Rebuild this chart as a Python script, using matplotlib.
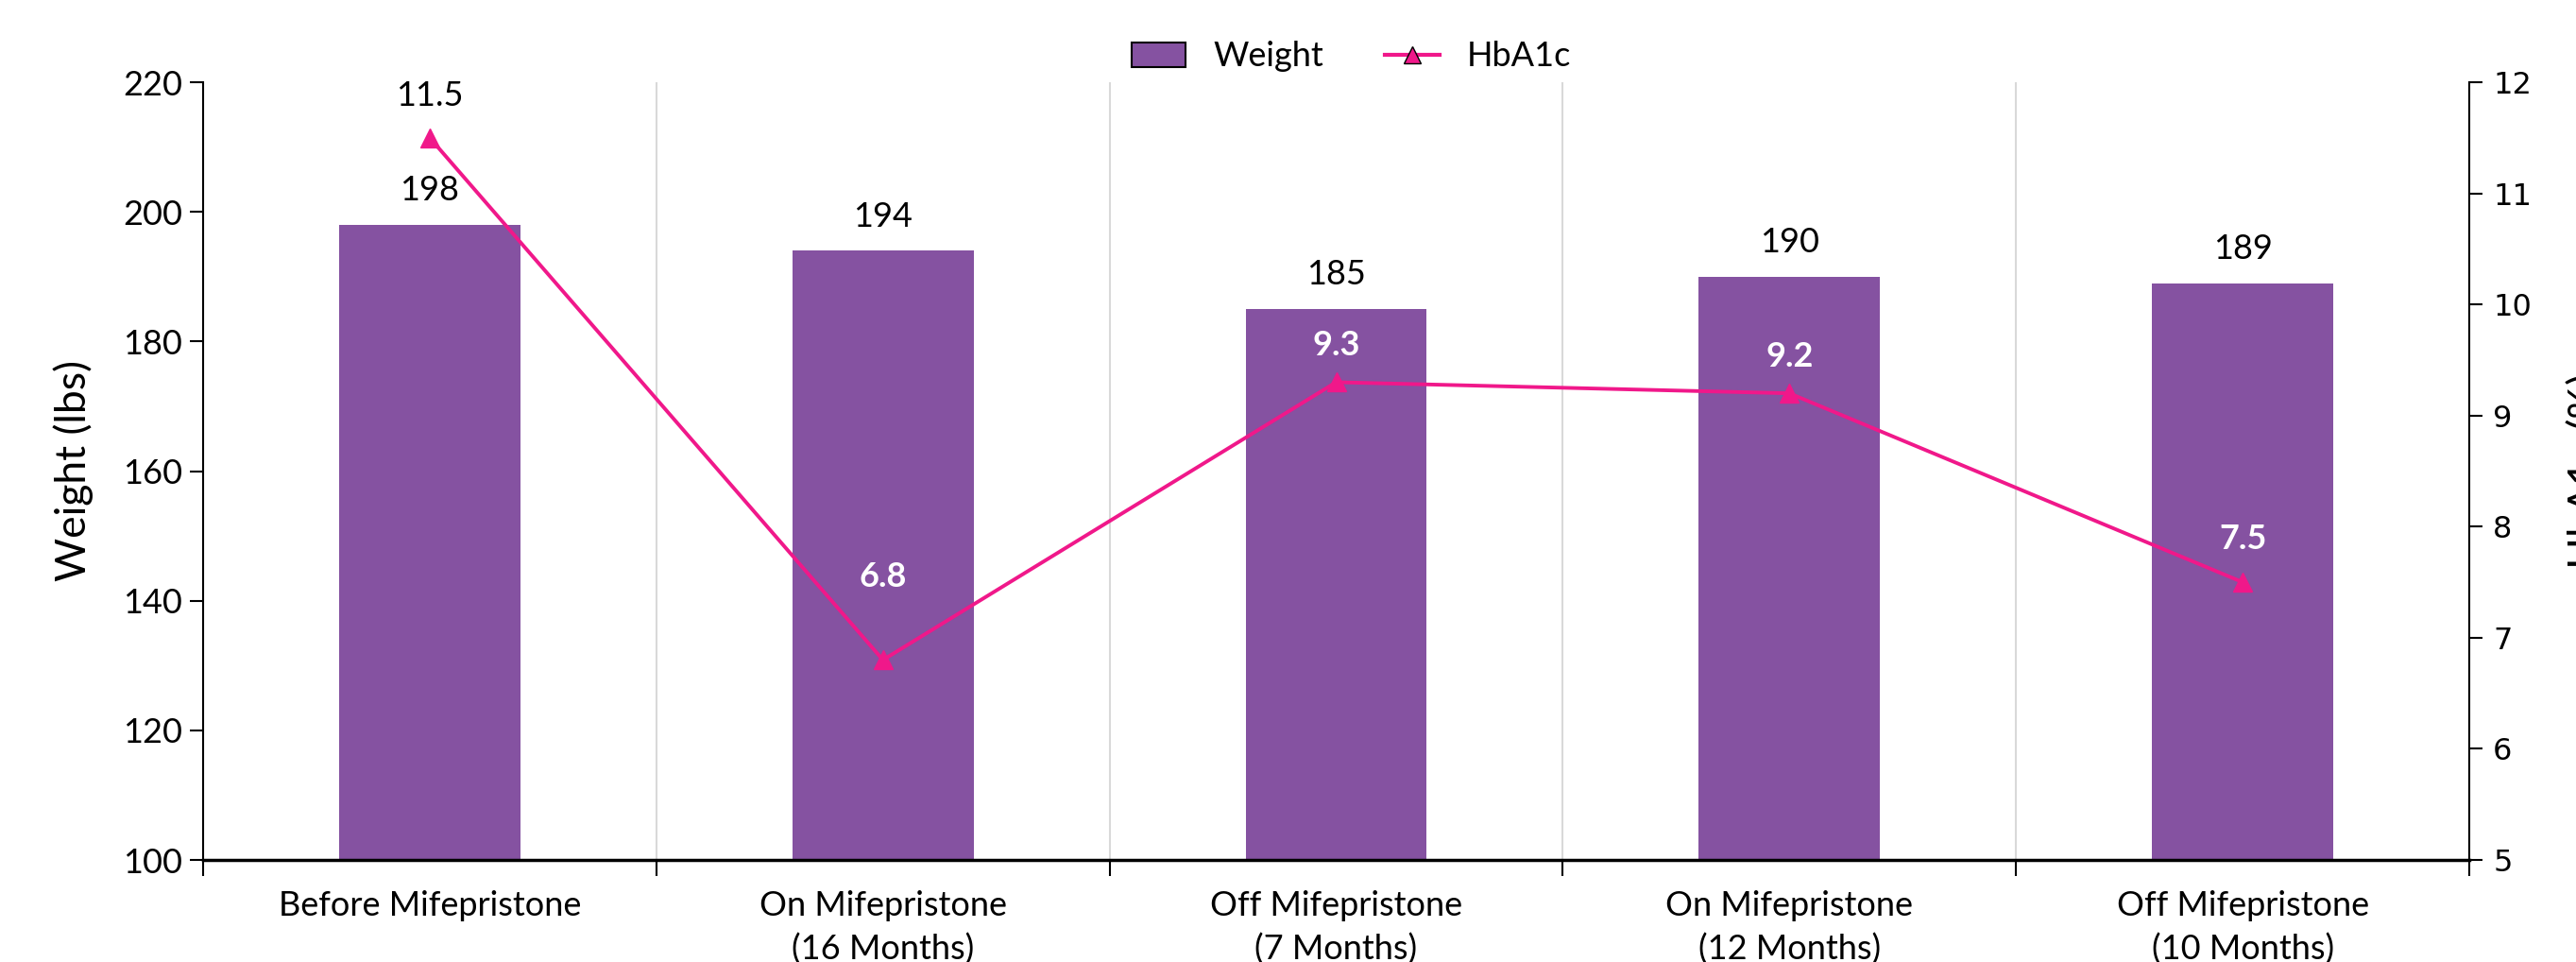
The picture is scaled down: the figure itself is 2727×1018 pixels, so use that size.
import numpy as np
import matplotlib.pyplot as plt
from matplotlib.lines import Line2D
from matplotlib.patches import Patch

categories = ["Before Mifepristone", "On Mifepristone\n(16 Months)", "Off Mifepristone\n(7 Months)",
              "On Mifepristone\n(12 Months)", "Off Mifepristone\n(10 Months)"]
weight = [198, 194, 185, 190, 189]
hba1c = [11.5, 6.8, 9.3, 9.2, 7.5]

bar_color = "#8552A1"
line_color = "#F0188A"

plt.rcParams["font.family"] = ["Lato", "DejaVu Sans"]

W, H = 2727, 1018
fig = plt.figure(figsize=(W / 100, H / 100), dpi=100)
left, right, top, bottom = 215, 2614, 87, 910
ax = fig.add_axes([left / W, 1 - bottom / H, (right - left) / W, (bottom - top) / H])

x = np.arange(len(categories))
ax.bar(x, weight, width=0.4, color=bar_color, zorder=2)
ax.set_xlim(-0.5, len(categories) - 0.5)
ax.set_ylim(100, 220)
ax.set_yticks(range(100, 221, 20))
ax.tick_params(axis="y", labelsize=26, length=10, width=1.5, pad=6)

ax.set_xticks(x)
ax.set_xticklabels(categories, fontsize=26, linespacing=1.45)
ax.set_xticks(np.arange(-0.5, len(categories)), minor=True)
ax.tick_params(axis="x", which="major", length=0, pad=23)
ax.tick_params(axis="x", which="minor", length=12, width=1.5)
ax.grid(axis="x", which="minor", color="#d9d9d9", lw=1.5, zorder=0)
ax.spines["top"].set_visible(False)
ax.spines["left"].set_linewidth(1.5)
ax.spines["bottom"].set_linewidth(2.5)
ax.spines["right"].set_visible(False)

for xi, w in zip(x, weight):
    ax.annotate(str(w), (xi, w), xytext=(0, 26), textcoords="offset points",
                ha="center", va="center", fontsize=26)

ax2 = ax.twinx()
ax2.plot(x, hba1c, color=line_color, lw=2.8, marker="^", markersize=14, zorder=3)
ax2.set_ylim(5, 12)
ax2.set_yticks(range(5, 13))
ax2.tick_params(axis="y", length=10, width=1.5, pad=8)
for lab in ax2.get_yticklabels():
    lab.set_fontfamily("DejaVu Sans")
    lab.set_fontsize(23)
for side in ["top", "left", "bottom"]:
    ax2.spines[side].set_visible(False)
ax2.spines["right"].set_linewidth(1.5)

# offsets (points) of the HbA1c value labels above each marker
label_offsets = [32, 63, 28, 28, 33]
for i, (xi, v) in enumerate(zip(x, hba1c)):
    first = i == 0
    ax2.annotate(f"{v}", (xi, v), xytext=(0, label_offsets[i]), textcoords="offset points",
                 ha="center", va="center", fontsize=26,
                 color="black" if first else "white",
                 fontweight="normal" if first else "bold")

fig.text(78 / W, 1 - 498 / H, "Weight (lbs)", rotation=90, ha="center", va="center", fontsize=32)
fig.text(2718 / W, 1 - 498 / H, "HbA1c (%)", rotation=90, ha="left", va="center", fontsize=32)

handles = [Patch(facecolor=bar_color, edgecolor="black", lw=1.5),
           Line2D([0], [0], color=line_color, lw=3, marker="^", markersize=13,
                  markerfacecolor=line_color, markeredgecolor="black")]
fig.legend(handles, ["Weight", "HbA1c"], loc="center", bbox_to_anchor=(0.5245, 1 - 60 / H),
           ncol=2, frameon=False, fontsize=26, handlelength=1.6, handleheight=0.75,
           columnspacing=1.8)

fig.savefig("out.png", dpi=100)
